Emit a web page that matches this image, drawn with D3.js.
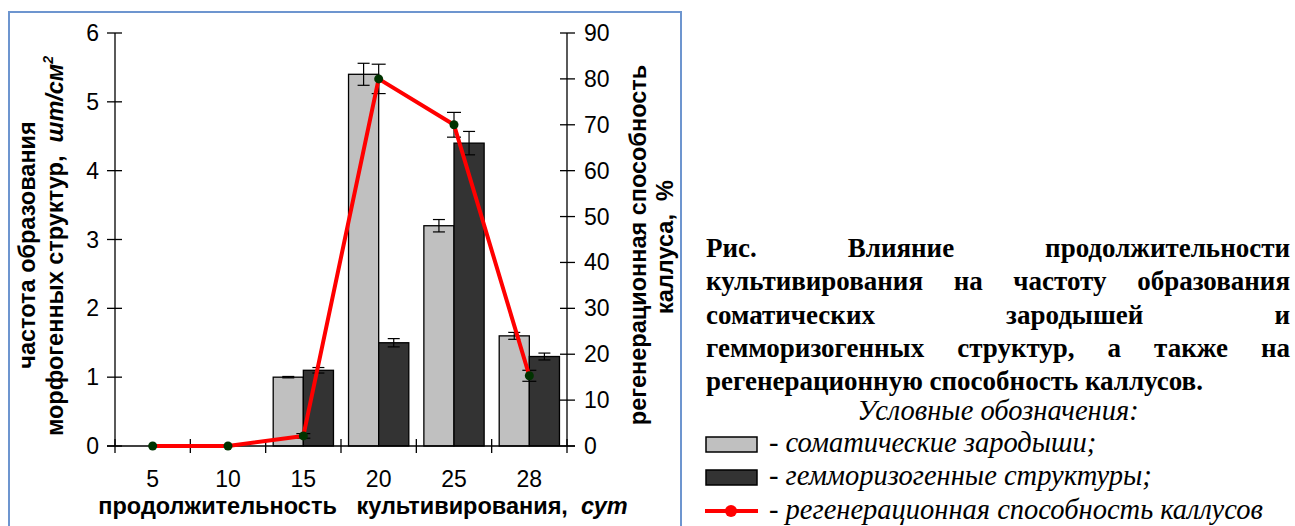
<!DOCTYPE html>
<html><head><meta charset="utf-8">
<script src="https://cdn.jsdelivr.net/npm/d3@7"></script>
<style>body{margin:0;background:#fff}svg{display:block}</style>
</head><body>
<svg id="c" width="1295" height="526"></svg>
<script>
const categories = ["5","10","15","20","25","28"];
const somatic = [0, 0, 1.0, 5.4, 3.2, 1.6];
const somaticErr = [0, 0, 0.01, 0.16, 0.09, 0.05];
const gemmo = [0, 0, 1.1, 1.5, 4.4, 1.3];
const gemmoErr = [0, 0, 0.04, 0.06, 0.17, 0.05];
const regen = [0, 0, 2.2, 80, 70, 15.3];
const regenErr = [0, 0, 0.5, 3.2, 2.7, 1.2];
const leftTicks = [0,1,2,3,4,5,6];
const rightTicks = [0,10,20,30,40,50,60,70,80,90];
const captionLines = [
  "Рис. Влияние продолжительности",
  "культивирования на частоту образования",
  "соматических зародышей и",
  "гемморизогенных структур, а также на",
  "регенерационную способность каллусов."
];
const legendTitle = "Условные обозначения:";
const legendItems = ["- соматические зародыши;", "- гемморизогенные структуры;", "- регенерационная способность каллусов"];

const svg = d3.select("#c");
const sans = "Liberation Sans, Arial, sans-serif";
const serif = "Liberation Serif, Times New Roman, serif";

// frame
svg.append("rect").attr("x",9).attr("y",12).attr("width",672).attr("height",530)
  .attr("fill","none").attr("stroke","#6d95cf").attr("stroke-width",2);

const x0 = 115, x1 = 567, yTop = 33, yBot = 446;
const x = d3.scaleBand().domain(categories).range([x0,x1]).paddingInner(0.2).paddingOuter(0.1);
const xs = d3.scaleBand().domain(["s","g"]).range([0,x.bandwidth()]);
const yL = d3.scaleLinear().domain([0,6]).range([yBot,yTop]);
const yR = d3.scaleLinear().domain([0,90]).range([yBot,yTop]);

// bars
const g = svg.append("g");
const series = [{k:"s",v:somatic,e:somaticErr,fill:"#c0c0c0"},{k:"g",v:gemmo,e:gemmoErr,fill:"#333333"}];
series.forEach(s=>{
  g.selectAll(null).data(categories).enter().append("rect")
    .attr("x",c=>x(c)+xs(s.k)).attr("width",xs.bandwidth())
    .attr("y",(c,i)=>yL(s.v[i])).attr("height",(c,i)=>yL(0)-yL(s.v[i]))
    .attr("fill",s.fill).attr("stroke","#000").attr("stroke-width",1.3);
});
// bar error bars
series.forEach(s=>{
  categories.forEach((c,i)=>{
    if(s.v[i]<=0) return;
    const cx = x(c)+xs(s.k)+xs.bandwidth()/2;
    const a = yL(s.v[i]+s.e[i]), b = yL(s.v[i]-s.e[i]);
    const eg = g.append("g").attr("stroke","#000").attr("stroke-width",1.2);
    eg.append("line").attr("x1",cx).attr("x2",cx).attr("y1",a).attr("y2",b);
    eg.append("line").attr("x1",cx-6).attr("x2",cx+6).attr("y1",a).attr("y2",a);
    eg.append("line").attr("x1",cx-6).attr("x2",cx+6).attr("y1",b).attr("y2",b);
  });
});

// axes
const ax = svg.append("g").attr("stroke","#000").attr("stroke-width",1.3);
ax.append("line").attr("x1",x0).attr("x2",x0).attr("y1",yTop).attr("y2",yBot);
ax.append("line").attr("x1",x1).attr("x2",x1).attr("y1",yTop).attr("y2",yBot);
ax.append("line").attr("x1",x0-8).attr("x2",x1+8).attr("y1",yBot).attr("y2",yBot);
leftTicks.forEach(t=>{
  ax.append("line").attr("x1",x0-8).attr("x2",x0+7).attr("y1",yL(t)).attr("y2",yL(t));
});
rightTicks.forEach(t=>{
  ax.append("line").attr("x1",x1-7).attr("x2",x1+8).attr("y1",yR(t)).attr("y2",yR(t));
});
const step = x.step();
for(let i=0;i<=categories.length;i++){
  const xx = x0 + i*step;
  ax.append("line").attr("x1",xx).attr("x2",xx).attr("y1",yBot-7).attr("y2",yBot+7);
}
const tfs = 23;
svg.selectAll(".lt").data(leftTicks).enter().append("text")
  .attr("x",x0-16).attr("y",t=>yL(t)+8).attr("text-anchor","end")
  .attr("font-family",sans).attr("font-size",tfs).text(t=>t);
svg.selectAll(".rt").data(rightTicks).enter().append("text")
  .attr("x",x1+17).attr("y",t=>yR(t)+8).attr("text-anchor","start")
  .attr("font-family",sans).attr("font-size",tfs).text(t=>t);
svg.selectAll(".xt").data(categories).enter().append("text")
  .attr("x",c=>x(c)+x.bandwidth()/2).attr("y",487).attr("text-anchor","middle")
  .attr("font-family",sans).attr("font-size",tfs).text(c=>c);

const afs = 23.5;
// x title
const xt = svg.append("text").attr("x",363).attr("y",514).attr("text-anchor","middle")
  .attr("font-family",sans).attr("font-size",afs).attr("font-weight","bold").attr("xml:space","preserve");
xt.append("tspan").text("продолжительность   культивирования,  ");
xt.append("tspan").attr("font-style","italic").text("сут");

// left titles
svg.append("text").attr("transform","translate(35,245) rotate(-90)").attr("text-anchor","middle")
  .attr("font-family",sans).attr("font-size",afs).attr("font-weight","bold").text("частота образования");
const lt2 = svg.append("text").attr("transform","translate(63,246) rotate(-90)").attr("text-anchor","middle")
  .attr("font-family",sans).attr("font-size",afs).attr("font-weight","bold").attr("xml:space","preserve");
lt2.append("tspan").text("морфогенных структур,  ");
lt2.append("tspan").attr("font-style","italic").text("шт/см");
lt2.append("tspan").attr("font-style","italic").attr("font-size",14).attr("dy",-10).text("2");

// right titles
svg.append("text").attr("transform","translate(646,245) rotate(-90)").attr("text-anchor","middle")
  .attr("font-family",sans).attr("font-size",afs).attr("font-weight","bold").text("регенерационная способность");
svg.append("text").attr("transform","translate(673,247) rotate(-90)").attr("text-anchor","middle")
  .attr("font-family",sans).attr("font-size",afs).attr("font-weight","bold").attr("xml:space","preserve").text("каллуса,  %");

// line
const cx = c=>x(c)+x.bandwidth()/2;
categories.forEach((c,i)=>{
  if(regenErr[i]<=0) return;
  const xx = cx(c), a = yR(regen[i]+regenErr[i]), b = yR(regen[i]-regenErr[i]);
  const eg = svg.append("g").attr("stroke","#000").attr("stroke-width",1.2);
  eg.append("line").attr("x1",xx).attr("x2",xx).attr("y1",a).attr("y2",b);
  eg.append("line").attr("x1",xx-7).attr("x2",xx+7).attr("y1",a).attr("y2",a);
  eg.append("line").attr("x1",xx-7).attr("x2",xx+7).attr("y1",b).attr("y2",b);
});
const line = d3.line().x((d,i)=>cx(categories[i])).y(d=>yR(d));
svg.append("path").datum(regen).attr("d",line).attr("fill","none")
  .attr("stroke","#ff0000").attr("stroke-width",4).attr("stroke-linejoin","round");
svg.selectAll(".dot").data(regen).enter().append("circle")
  .attr("cx",(d,i)=>cx(categories[i])).attr("cy",d=>yR(d)).attr("r",4.5).attr("fill","#003300");

// caption (justified)
const capX0 = 706, capX1 = 1290, capY = 257, capDy = 33.3, capFs = 27;
captionLines.forEach((ln,li)=>{
  const words = ln.split(" ");
  const y = capY + li*capDy;
  const last = li === captionLines.length-1;
  const ws = words.map(w=>{
    const t = svg.append("text").attr("y",y).attr("font-family",serif).attr("font-size",capFs)
      .attr("font-weight","bold").attr("fill","#000").text(w);
    return {t, w: t.node().getComputedTextLength()};
  });
  const total = d3.sum(ws,d=>d.w);
  const gap = last ? capFs*0.25 : (capX1-capX0-total)/(words.length-1);
  let cur = capX0;
  ws.forEach(d=>{ d.t.attr("x",cur); cur += d.w + gap; });
});

// legend
const lfs = 28.5;
svg.append("text").attr("x",998).attr("y",420).attr("text-anchor","middle")
  .attr("font-family",serif).attr("font-style","italic").attr("font-size",lfs).text(legendTitle);
const legY = [444, 477, 511];
const legFill = ["#c0c0c0","#333333"];
[0,1].forEach(i=>{
  svg.append("rect").attr("x",706).attr("y",legY[i]-7).attr("width",51).attr("height",15)
    .attr("fill",legFill[i]).attr("stroke","#000").attr("stroke-width",1.5);
});
svg.append("line").attr("x1",705).attr("x2",758).attr("y1",legY[2]).attr("y2",legY[2])
  .attr("stroke","#ff0000").attr("stroke-width",4);
svg.append("circle").attr("cx",731).attr("cy",legY[2]).attr("r",6).attr("fill","#ff0000");
legendItems.forEach((t,i)=>{
  svg.append("text").attr("x",769).attr("y",legY[i]+8).attr("font-family",serif)
    .attr("font-style","italic").attr("font-size",lfs).text(t);
});
</script>
</body></html>
